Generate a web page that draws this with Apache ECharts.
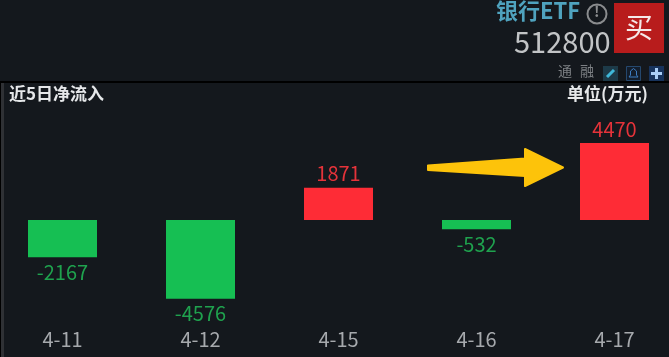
<!DOCTYPE html>
<html><head><meta charset="utf-8">
<style>html,body{margin:0;padding:0;background:#14181d;overflow:hidden;width:669px;height:357px;position:relative}#c{width:691px;height:357px;position:absolute;left:-7px;top:0}</style>
<script src="https://cdn.jsdelivr.net/npm/echarts@6/dist/echarts.min.js"></script>
</head><body><div id="c"></div>
<script>
const categories = ['4-11','4-12','4-15','4-16','4-17'];
const netInflow = [-2167,-4576,1871,-532,4470];
const fundName = '银行ETF';
const fundCode = '512800';
const chartTitle = '近5日净流入';
const unitLabel = '单位(万元)';
const RED='#fe2c36', GREEN='#16bf53';
const CJK='"Noto Sans CJK SC","Noto Sans",sans-serif';
const chart = echarts.init(document.getElementById('c'),null,{renderer:'canvas'});
chart.setOption({
  animation:false,
  backgroundColor:'#14181d',
  grid:{left:0.5,width:690,top:116.6,height:206.8,containLabel:false},
  xAxis:{type:'category',data:categories,
    axisLine:{show:false},axisTick:{show:false},splitLine:{show:false},
    axisLabel:{color:'#a6a9ad',fontSize:20,fontFamily:CJK,margin:6}},
  yAxis:{type:'value',min:-6000,max:6000,show:false,splitLine:{show:false}},
  series:[{type:'bar',barWidth:69,
    data:netInflow.map(v=>({value:v,
      itemStyle:{color:v>=0?RED:GREEN},
      label:{show:true,position:v>=0?'top':'bottom',distance:v>=0?4:5,
        color:v>=0?'#e5333a':'#1fa24e',fontSize:20,fontFamily:CJK}}))}],
  graphic:[{type:'group',x:7,y:0,children:[
    {type:'rect',shape:{x:0,y:81,width:669,height:2},style:{fill:'#000000'},silent:true},
    {type:'rect',shape:{x:0,y:83,width:1,height:274},style:{fill:'#000000'}},
    {type:'rect',shape:{x:1,y:83,width:3,height:274},style:{fill:'#2f3135'}},
    {type:'text',x:9,y:85,style:{text:chartTitle,fill:'#e6e8ea',font:'bold 17px '+CJK}},
    {type:'text',x:567,y:85,style:{text:unitLabel,fill:'#e6e8ea',font:'bold 17px '+CJK}},
    {type:'text',x:496,y:0,style:{text:fundName,fill:'#4fa3bf',font:'bold 22px '+CJK}},
    {type:'text',x:514,y:27,style:{text:fundCode,fill:'#c2c4c6',font:'29px '+CJK}},
    {type:'circle',shape:{cx:597,cy:14,r:9.5},style:{fill:'none',stroke:'#8a8c8e',lineWidth:2}},
    {type:'text',x:594,y:4,style:{text:'!',fill:'#8a8c8e',font:'bold 15px '+CJK}},
    {type:'rect',shape:{x:614,y:3,width:50,height:50},style:{fill:'#b81c1c'}},
    {type:'text',x:625,y:13,style:{text:'买',fill:'#f5e8e8',font:'28px '+CJK}},
    {type:'text',x:558,y:64,style:{text:'通',fill:'#7d8084',font:'14px '+CJK}},
    {type:'text',x:580,y:64,style:{text:'融',fill:'#7d8084',font:'14px '+CJK}},
    {type:'rect',shape:{x:603,y:66,width:15,height:15},style:{fill:'#1d3a48'}},
    {type:'polyline',shape:{points:[[607,77],[614,70]]},style:{stroke:'#3fb7d8',lineWidth:3,fill:'none'}},
    {type:'rect',shape:{x:626.5,y:66.5,width:14,height:14},style:{fill:'#131d2b',stroke:'#25486e'}},
    {type:'polygon',shape:{points:[[629,77],[630.5,75],[630.5,71],[633.5,68.5],[636.5,71],[636.5,75],[638,77]]},style:{fill:'none',stroke:'#3d7cc0',lineWidth:1}},
    {type:'rect',shape:{x:649,y:66,width:15,height:15},style:{fill:'#17335c'}},
    {type:'rect',shape:{x:651,y:72,width:11,height:3},style:{fill:'#a9cdf5'}},
    {type:'rect',shape:{x:655,y:68,width:3,height:11},style:{fill:'#a9cdf5'}},
    {type:'polygon',shape:{points:[[428,165.5],[525,158.5],[525,149],[563,167.5],[525,186],[525,176],[428,170]]},
      style:{fill:'#fdc30a',stroke:'#fdc30a',lineWidth:2,lineJoin:'round'}}
  ]}]
});
</script></body></html>
